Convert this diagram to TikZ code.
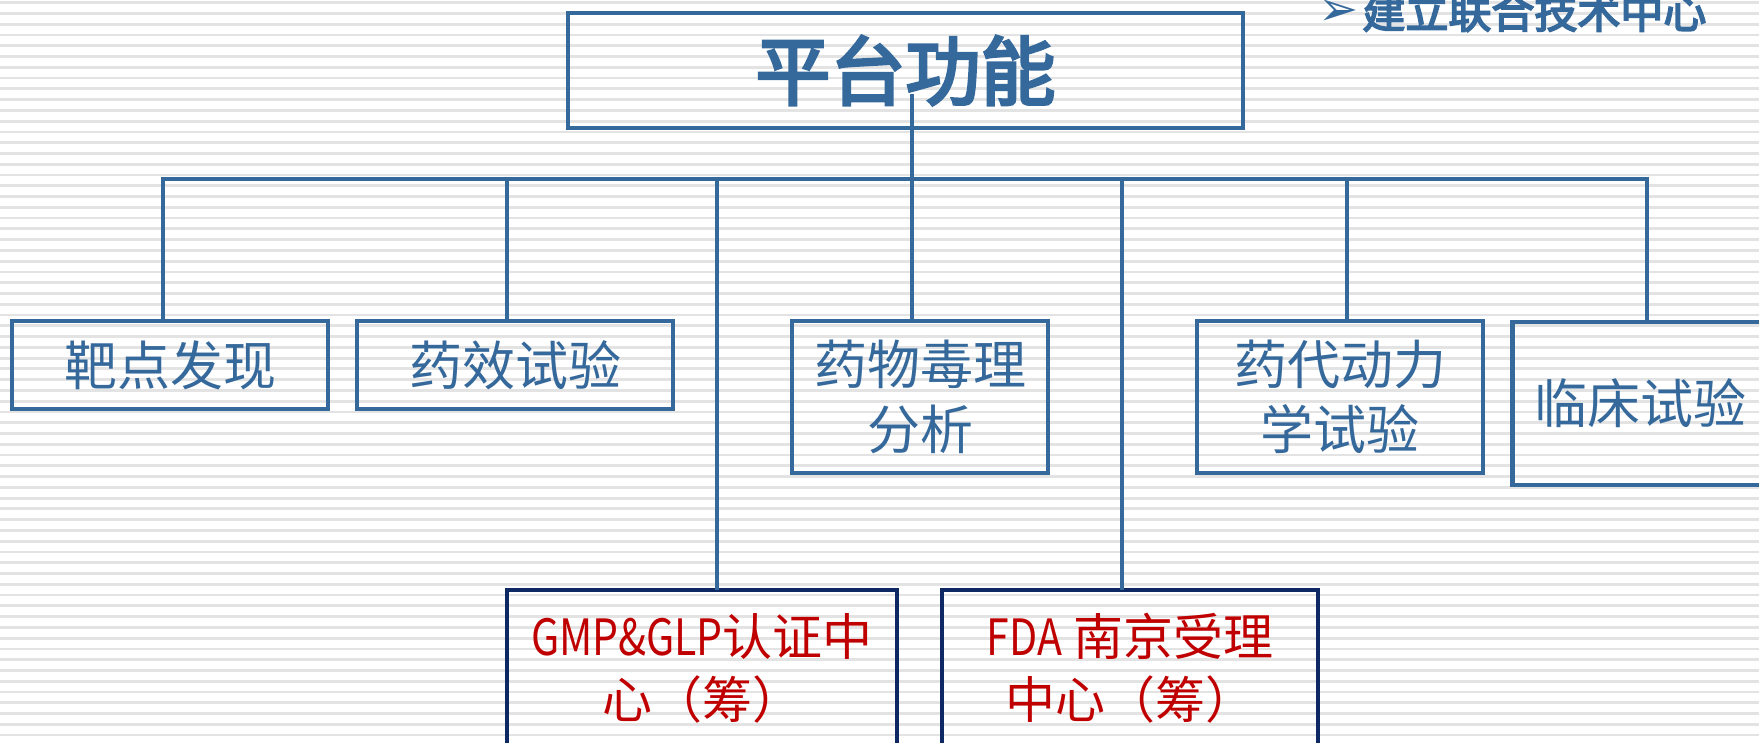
\documentclass[tikz,border=0pt]{standalone}
\usepackage{graphicx}
\usepackage{fontspec}
\setmainfont{Noto Sans CJK SC}
\newfontfamily\heavyfont{Noto Sans CJK SC}[FakeBold=4]
\newfontfamily\symfont{DejaVu Sans}
\definecolor{boxblue}{RGB}{54,105,155}
\definecolor{navy}{RGB}{14,40,100}
\definecolor{redtext}{RGB}{192,0,0}
\newcommand{\narrow}[1]{\scalebox{0.82}[1]{#1}}
\tikzset{
  funcbox/.style={draw=boxblue, line width=2.2pt, text=boxblue, align=center, inner sep=0pt,
    font=\fontsize{26.5}{32.5}\selectfont},
  centerbox/.style={draw=navy, line width=2.2pt, text=redtext, align=center, inner sep=0pt,
    font=\fontsize{25}{31.5}\selectfont},
  link/.style={draw=boxblue, line width=2pt, line cap=rect},
  stripe/.style={draw=gray!22, line width=1.4pt}
}

\begin{document}
\begin{tikzpicture}[x=0.5pt, y=-0.5pt]
    % draw striped background
    \useasboundingbox (0,0) rectangle (1759,743);
    \fill[white] (0,0) rectangle (1759,743);
    \foreach \i in {0,...,69}
      \draw[stripe] (0,{2.7+10.77*\i}) -- (1759,{2.7+10.77*\i});

    % draw title and note
    \node[funcbox, minimum width=337.5pt, minimum height=57.5pt,
          font=\heavyfont\fontsize{37.5}{40}\selectfont] (top) at (905.5,70.5) {平台功能};
    \node[anchor=base west, inner sep=0pt, text=boxblue,
          font=\heavyfont\fontsize{21.5}{24}\selectfont] (tech) at (1362,28) {建立联合技术中心};
    \node[anchor=base east, inner sep=0pt, text=boxblue,
          font=\symfont\fontsize{24}{26}\selectfont] (tip) at ([xshift=-1.5pt,yshift=1pt]tech.base west) {➢};

    % draw function boxes
    \node[funcbox, minimum width=158pt, minimum height=44pt] (target) at (170,365) {靶点发现};
    \node[funcbox, minimum width=158pt, minimum height=44pt] (efficacy) at (515,365) {药效试验};
    \node[funcbox, minimum width=128pt, minimum height=76pt] (toxic) at (920,397) {药物毒理\\分析};
    \node[funcbox, minimum width=143pt, minimum height=76pt] (pk) at (1340,397) {药代动力\\学试验};
    \node[funcbox, minimum width=127.5pt, minimum height=81.5pt] (clinic) at (1640,403.5) {临床试验};

    % draw centre boxes
    \node[centerbox, minimum width=195pt, minimum height=78pt] (gmp) at (702,668)
      {\narrow{GMP\&GLP}认证中\\心（筹）};
    \node[centerbox, minimum width=188pt, minimum height=78pt] (fda) at (1130,668)
      {\narrow{FDA}\ 南京受理\\中心（筹）};

    % draw connectors
    \coordinate (hub) at (912,179.5);
    \draw[link] ([yshift=-13pt]top.center -| hub) -- (hub);
    \draw[link] (163,179.5) -- (1647,179.5);
    \foreach \x/\n in {163/target, 507/efficacy, 717/gmp, 912/toxic, 1122/fda, 1347/pk, 1647/clinic}
      \draw[link] (\x,179.5) coordinate (drop) -- (drop |- \n.north);
\end{tikzpicture}
\end{document}
